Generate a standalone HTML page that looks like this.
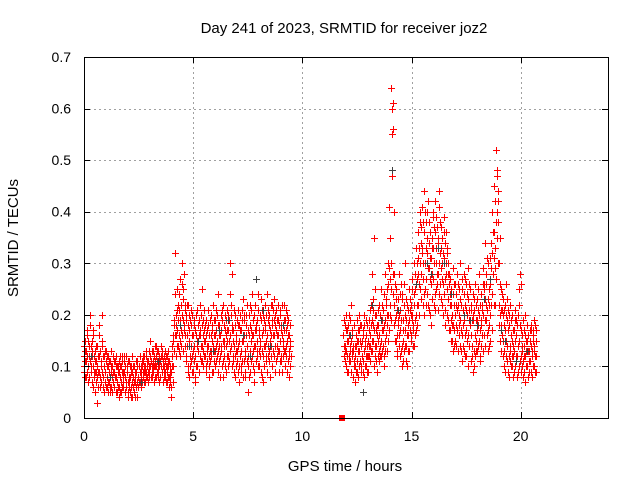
<!DOCTYPE html>
<html><head><meta charset="utf-8"><style>
body{margin:0;background:#fff}
svg{display:block;font-family:"Liberation Sans",sans-serif}
</style></head><body>
<svg id="chart" width="640" height="480"></svg>
<script>
const xTicks=[0,5,10,15,20];
const yTicks=[0,0.1,0.2,0.3,0.4,0.5,0.6,0.7];
const yTickLabels=["0","0.1","0.2","0.3","0.4","0.5","0.6","0.7"];
const redBins=[
[0.0,.12,.09,.14,.10],[0.1,.13,.08,.11,.16],[0.2,.10,.15,.07,.12],[0.3,.20,.11,.09,.14],[0.4,.12,.06,.17,.10],
[0.5,.09,.13,.05,.11],[0.6,.03,.10,.14,.08],[0.7,.18,.09,.12,.06],[0.8,.11,.07,.15,.20],[0.9,.08,.12,.05,.10],
[1.0,.09,.06,.11,.13],[1.1,.07,.10,.05,.12],[1.2,.08,.11,.06,.09],[1.3,.10,.05,.12,.07],[1.4,.06,.09,.11,.08],
[1.5,.12,.07,.05,.10],[1.6,.09,.06,.11,.04],[1.7,.07,.10,.05,.12],[1.8,.08,.06,.09,.11],[1.9,.05,.10,.07,.12],
[2.0,.09,.04,.07,.11],[2.1,.06,.08,.10,.05],[2.2,.04,.09,.07,.12],[2.3,.07,.05,.10,.08],[2.4,.06,.09,.04,.11],
[2.5,.08,.06,.10,.07],[2.6,.07,.10,.09,.06],[2.7,.09,.08,.11,.12],[2.8,.10,.07,.09,.13],[2.9,.08,.11,.10,.07],
[3.0,.10,.09,.12,.15],[3.1,.11,.08,.10,.13],[3.2,.09,.12,.10,.07],[3.3,.12,.10,.08,.14],[3.4,.10,.13,.09,.11],
[3.5,.08,.11,.14,.10],[3.6,.12,.09,.10,.07],[3.7,.10,.13,.08,.11],[3.8,.07,.09,.12,.10],[3.9,.06,.08,.11,.09],
[4.0,.06,.04,.09,.12],[4.1,.15,.10,.18,.13],[4.2,.32,.20,.16,.12],[4.3,.17,.14,.22,.19],[4.4,.27,.15,.19,.12],
[4.5,.30,.20,.16,.23],[4.6,.28,.18,.14,.21],[4.7,.12,.19,.16,.22],[4.8,.10,.15,.20,.08],[4.9,.14,.18,.11,.21],
[5.0,.16,.09,.13,.19],[5.1,.12,.07,.17,.20],[5.2,.15,.10,.18,.13],[5.3,.19,.12,.16,.22],[5.4,.25,.14,.18,.11],
[5.5,.21,.15,.12,.17],[5.6,.10,.16,.19,.13],[5.7,.14,.18,.08,.12],[5.8,.11,.16,.20,.13],[5.9,.17,.09,.14,.22],
[6.0,.13,.19,.10,.16],[6.1,.15,.12,.20,.24],[6.2,.14,.18,.11,.08],[6.3,.17,.13,.21,.10],[6.4,.22,.15,.12,.18],
[6.5,.19,.14,.09,.16],[6.6,.12,.17,.20,.10],[6.7,.30,.16,.13,.22],[6.8,.28,.18,.11,.15],[6.9,.14,.20,.08,.12],
[7.0,.16,.11,.19,.13],[7.1,.10,.15,.07,.18],[7.2,.13,.17,.09,.21],[7.3,.23,.15,.11,.19],[7.4,.12,.08,.16,.20],
[7.5,.14,.05,.10,.17],[7.6,.18,.13,.09,.22],[7.7,.16,.12,.24,.10],[7.8,.20,.14,.07,.17],[7.9,.27,.18,.12,.15],
[8.0,.21,.13,.16,.10],[8.1,.15,.19,.09,.23],[8.2,.12,.17,.07,.20],[8.3,.18,.14,.22,.11],[8.4,.16,.24,.12,.19],
[8.5,.20,.13,.08,.15],[8.6,.14,.18,.10,.22],[8.7,.23,.16,.12,.19],[8.8,.11,.17,.21,.14],[8.9,.19,.13,.16,.09],
[9.0,.15,.20,.11,.17],[9.1,.22,.14,.18,.12],[9.2,.17,.10,.19,.13],[9.3,.20,.15,.09,.18],[9.4,.12,.16,.08,.14],
[11.9,.16,.12,.19,.14],[12.0,.13,.10,.17,.20],[12.1,.15,.09,.18,.12],[12.2,.19,.11,.14,.22],[12.3,.12,.16,.08,.13],
[12.4,.18,.10,.14,.07],[12.5,.15,.19,.11,.09],[12.6,.13,.17,.10,.20],[12.7,.09,.14,.18,.12],[12.8,.16,.11,.20,.08],
[12.9,.14,.19,.10,.12],[13.0,.18,.12,.09,.15],[13.1,.21,.16,.11,.14],[13.2,.28,.19,.13,.23],[13.3,.35,.17,.12,.25],
[13.4,.14,.20,.09,.16],[13.5,.18,.13,.22,.11],[13.6,.15,.19,.12,.25],[13.7,.21,.14,.17,.10],[13.8,.28,.19,.13,.23],
[13.9,.25,.18,.30,.15],[14.0,.41,.27,.20,.22],[14.1,.64,.60,.55,.47],[14.2,.40,.28,.22,.18],[14.3,.25,.15,.20,.12],
[14.4,.19,.23,.14,.28],[14.5,.17,.21,.13,.26],[14.6,.24,.15,.19,.11],[14.7,.20,.14,.30,.17],[14.8,.16,.22,.10,.18],
[14.9,.19,.25,.13,.21],[15.0,.22,.16,.27,.19],[15.1,.18,.24,.14,.30],[15.2,.25,.20,.33,.17],[15.3,.36,.28,.22,.31],
[15.4,.30,.40,.25,.34],[15.5,.41,.33,.27,.22],[15.6,.44,.36,.30,.25],[15.7,.38,.32,.24,.40],[15.8,.34,.29,.21,.38],
[15.9,.26,.31,.18,.35],[16.0,.40,.33,.27,.22],[16.1,.42,.36,.25,.30],[16.2,.37,.28,.34,.21],[16.3,.44,.32,.26,.38],
[16.4,.35,.27,.22,.30],[16.5,.39,.31,.24,.18],[16.6,.36,.28,.20,.33],[16.7,.30,.23,.17,.26],[16.8,.27,.19,.15,.22],
[16.9,.24,.18,.13,.29],[17.0,.20,.26,.15,.22],[17.1,.28,.21,.17,.13],[17.2,.25,.18,.30,.14],[17.3,.22,.16,.27,.11],
[17.4,.19,.24,.13,.28],[17.5,.26,.17,.21,.12],[17.6,.23,.29,.16,.19],[17.7,.18,.25,.11,.21],[17.8,.14,.20,.09,.24],
[17.9,.21,.16,.26,.12],[18.0,.17,.23,.13,.19],[18.1,.20,.15,.28,.11],[18.2,.24,.18,.14,.21],[18.3,.29,.20,.16,.25],
[18.4,.34,.26,.19,.22],[18.5,.30,.23,.17,.13],[18.6,.26,.20,.15,.31],[18.7,.40,.32,.24,.28],[18.8,.45,.36,.29,.22],
[18.9,.52,.47,.40,.35],[19.0,.42,.30,.22,.18],[19.1,.25,.18,.13,.21],[19.2,.20,.15,.23,.10],[19.3,.17,.22,.12,.26],
[19.4,.14,.19,.09,.21],[19.5,.18,.13,.22,.11],[19.6,.15,.20,.10,.12],[19.7,.13,.17,.09,.21],[19.8,.16,.11,.19,.08],
[19.9,.20,.14,.25,.10],[20.0,.28,.17,.12,.09],[20.1,.14,.19,.08,.11],[20.2,.12,.16,.07,.20],[20.3,.15,.10,.18,.13],
[20.4,.09,.13,.17,.11],[20.5,.14,.18,.08,.12],[20.6,.16,.10,.13,.19],[20.7,.12,.15,.09,.17]
];
const redBins2=[
[0.05,.11,.15,.08,.13],[0.15,.09,.12,.17,.10],[0.25,.14,.08,.11,.18],[0.35,.10,.13,.07,.15],[0.45,.16,.09,.12,.08],
[0.55,.07,.11,.14,.09],[0.65,.12,.06,.09,.16],[0.75,.08,.13,.10,.07],[0.85,.14,.09,.06,.12],[0.95,.10,.07,.13,.09],
[1.05,.08,.12,.06,.10],[1.15,.11,.07,.09,.05],[1.25,.06,.10,.13,.08],[1.35,.09,.07,.11,.06],[1.45,.11,.05,.08,.10],
[1.55,.07,.10,.06,.09],[1.65,.10,.05,.08,.12],[1.75,.06,.09,.11,.07],[1.85,.09,.12,.05,.08],[1.95,.07,.06,.10,.09],
[2.05,.05,.08,.11,.07],[2.15,.09,.06,.04,.10],[2.25,.06,.10,.08,.05],[2.35,.09,.04,.07,.11],[2.45,.07,.10,.06,.08],
[2.55,.10,.07,.09,.12],[2.65,.08,.11,.07,.10],[2.75,.12,.09,.07,.10],[2.85,.09,.12,.08,.11],[2.95,.11,.09,.13,.08],
[3.05,.12,.10,.08,.11],[3.15,.09,.13,.11,.10],[3.25,.11,.08,.14,.10],[3.35,.09,.11,.13,.08],[3.45,.12,.10,.07,.11],
[3.55,.10,.12,.09,.13],[3.65,.11,.08,.12,.09],[3.75,.09,.12,.10,.07],[3.85,.11,.08,.10,.13],[3.95,.08,.10,.07,.06],
[4.05,.10,.14,.07,.16],[4.15,.19,.13,.24,.16],[4.25,.18,.25,.14,.21],[4.35,.21,.16,.13,.24],[4.45,.17,.22,.14,.26],
[4.55,.19,.25,.13,.17],[4.65,.16,.22,.11,.20],[4.75,.14,.18,.09,.22],[4.85,.17,.12,.19,.10],[4.95,.12,.16,.20,.09],
[5.05,.14,.18,.11,.08],[5.15,.16,.10,.14,.21],[5.25,.13,.18,.09,.16],[5.35,.17,.11,.20,.14],[5.45,.13,.19,.16,.10],
[5.55,.18,.12,.15,.09],[5.65,.14,.11,.17,.21],[5.75,.16,.10,.13,.19],[5.85,.12,.18,.15,.09],[5.95,.19,.13,.11,.16],
[6.05,.11,.17,.14,.21],[6.15,.18,.13,.09,.16],[6.25,.16,.12,.20,.14],[6.35,.19,.11,.15,.08],[6.45,.14,.20,.10,.17],
[6.55,.17,.12,.21,.15],[6.65,.15,.19,.11,.24],[6.75,.20,.14,.17,.10],[6.85,.17,.12,.21,.09],[6.95,.18,.10,.15,.13],
[7.05,.14,.18,.09,.21],[7.15,.17,.12,.20,.10],[7.25,.11,.15,.19,.08],[7.35,.16,.20,.13,.09],[7.45,.18,.11,.14,.22],
[7.55,.12,.16,.20,.08],[7.65,.15,.21,.11,.17],[7.75,.19,.13,.16,.09],[7.85,.14,.22,.11,.17],[7.95,.19,.13,.24,.10],
[8.05,.17,.12,.20,.14],[8.15,.13,.21,.16,.08],[8.25,.19,.14,.10,.17],[8.35,.15,.20,.12,.09],[8.45,.21,.14,.18,.11],
[8.55,.17,.22,.12,.16],[8.65,.19,.13,.16,.21],[8.75,.14,.20,.09,.18],[8.85,.16,.12,.19,.22],[8.95,.13,.18,.11,.21],
[9.05,.18,.12,.16,.09],[9.15,.15,.19,.13,.22],[9.25,.12,.17,.21,.14],[9.35,.16,.11,.19,.13],[9.45,.18,.10,.15,.12],
[11.95,.14,.18,.11,.13],[12.05,.17,.12,.15,.09],[12.15,.11,.16,.20,.13],[12.25,.15,.09,.13,.17],[12.35,.14,.18,.11,.10],
[12.45,.12,.16,.09,.14],[12.55,.17,.13,.08,.15],[12.65,.11,.15,.18,.10],[12.75,.15,.12,.17,.09],[12.85,.13,.18,.10,.15],
[12.95,.16,.12,.14,.09],[13.05,.14,.19,.12,.17],[13.15,.18,.13,.22,.15],[13.25,.21,.15,.18,.10],[13.35,.20,.14,.17,.11],
[13.45,.18,.12,.15,.21],[13.55,.16,.20,.12,.14],[13.65,.19,.13,.17,.22],[13.75,.18,.12,.24,.15],[13.85,.22,.16,.20,.13],
[13.95,.20,.26,.17,.29],[14.05,.35,.25,.30,.19],[14.15,.61,.56,.28,.24],[14.25,.26,.19,.15,.23],[14.35,.21,.16,.13,.18],
[14.45,.16,.20,.24,.12],[14.55,.19,.14,.23,.10],[14.65,.17,.22,.13,.26],[14.75,.14,.19,.23,.11],[14.85,.21,.16,.13,.25],
[14.95,.17,.23,.15,.20],[15.05,.20,.25,.17,.14],[15.15,.22,.28,.16,.19],[15.25,.30,.22,.18,.27],[15.35,.26,.33,.20,.38],
[15.45,.37,.28,.23,.32],[15.55,.38,.30,.24,.20],[15.65,.40,.33,.27,.22],[15.75,.35,.29,.22,.42],[15.85,.31,.27,.20,.36],
[15.95,.33,.28,.23,.39],[16.05,.37,.30,.24,.21],[16.15,.39,.33,.26,.28],[16.25,.35,.30,.24,.41],[16.35,.37,.29,.23,.33],
[16.45,.32,.26,.20,.36],[16.55,.34,.27,.21,.30],[16.65,.32,.25,.19,.28],[16.75,.28,.22,.17,.24],[16.85,.25,.20,.15,.18],
[16.95,.22,.17,.26,.14],[17.05,.24,.18,.14,.28],[17.15,.22,.26,.16,.20],[17.25,.19,.23,.13,.17],[17.35,.25,.18,.14,.21],
[17.45,.22,.16,.27,.12],[17.55,.20,.15,.24,.10],[17.65,.21,.26,.14,.18],[17.75,.16,.22,.12,.19],[17.85,.19,.13,.23,.10],
[17.95,.15,.19,.22,.13],[18.05,.21,.14,.18,.25],[18.15,.17,.22,.12,.19],[18.25,.22,.16,.26,.13],[18.35,.26,.19,.23,.14],
[18.45,.28,.21,.16,.31],[18.55,.25,.18,.22,.14],[18.65,.29,.22,.34,.17],[18.75,.36,.28,.22,.31],[18.85,.42,.33,.27,.38],
[18.95,.48,.44,.38,.30],[19.05,.35,.26,.20,.15],[19.15,.21,.16,.24,.12],[19.25,.18,.13,.21,.09],[19.35,.15,.20,.11,.23],
[19.45,.17,.12,.20,.08],[19.55,.14,.19,.10,.16],[19.65,.12,.17,.08,.14],[19.75,.15,.10,.19,.12],[19.85,.18,.12,.09,.14],
[19.95,.22,.15,.11,.18],[20.05,.26,.16,.10,.13],[20.15,.12,.17,.09,.14],[20.25,.10,.15,.13,.18],[20.35,.13,.08,.16,.11],
[20.45,.11,.15,.09,.17],[20.55,.13,.17,.10,.15],[20.65,.14,.09,.18,.12]
];
const grayTimes=[0.3,1.2,2.6,3.4,4.4,5.2,5.9,6.6,7.3,7.9,8.5,9.1,12.2,12.8,13.6,14.1,14.4,15.2,15.7,16.2,16.8,17.4,18.0,18.6,19.3,19.8,20.3,4.8,6.2,7.6,8.2,13.2,15.9,16.5,17.7,18.3,19.1];
const grayValues=[.12,.08,.07,.11,.18,.15,.13,.19,.16,.27,.14,.18,.16,.05,.19,.48,.21,.26,.30,.33,.24,.20,.18,.27,.15,.11,.13,.14,.17,.12,.21,.22,.28,.30,.19,.23,.17];
const flagTime=11.82, flagValue=0;

const NS="http://www.w3.org/2000/svg";
const svg=document.getElementById('chart');
const L=84,R=608,T=57,B=418,XMAX=24,YMAX=0.7;
const xs=t=>L+t/XMAX*(R-L);
const ys=v=>B-v/YMAX*(B-T);
function mk(tag,attrs,parent){const e=document.createElementNS(NS,tag);for(const k in attrs)e.setAttribute(k,attrs[k]);(parent||svg).appendChild(e);return e;}

const grid=mk('g',{stroke:'#a0a0a0','stroke-width':1,'stroke-dasharray':'2,3'});


xTicks.forEach(t=>{if(t>0)mk('line',{x1:Math.round(xs(t))+.5,x2:Math.round(xs(t))+.5,y1:T,y2:B},grid);});
yTicks.forEach(v=>{if(v>0&&v<YMAX)mk('line',{x1:L,x2:R,y1:Math.round(ys(v))+.5,y2:Math.round(ys(v))+.5},grid);});

function plus(x,y,g){mk('path',{d:`M${x-3.5} ${y}H${x+3.5}M${x} ${y-3.5}V${y+3.5}`},g);}

const redG=mk('g',{stroke:'#ff0000','stroke-width':1});


[redBins,redBins2].forEach(arr=>arr.forEach(b=>{const t=b[0];for(let j=1;j<b.length;j++){
 const x=Math.round(xs(t+(j-2.5)*0.012))+.5,y=Math.round(ys(b[j]))+.5;plus(x,y,redG);}}));

const grayG=mk('g',{stroke:'#404040','stroke-width':1});


grayTimes.forEach((t,i)=>{plus(Math.round(xs(t))+.5,Math.round(ys(grayValues[i]))+.5,grayG);});

const flag=mk('rect',{x:Math.round(xs(flagTime))-3,y:ys(flagValue)-3,width:6,height:6,fill:'#ff0000'});



const frame=mk('rect',{x:L+.5,y:T+.5,width:R-L,height:B-T,fill:'none',stroke:'#000'});



const ax=mk('g',{stroke:'#000'});


xTicks.forEach(t=>{const x=Math.round(xs(t))+.5;mk('line',{x1:x,x2:x,y1:B,y2:B-6},ax);mk('line',{x1:x,x2:x,y1:T,y2:T+6},ax);});
yTicks.forEach(v=>{const y=Math.round(ys(v))+.5;mk('line',{x1:L,x2:L+6,y1:y,y2:y},ax);mk('line',{x1:R,x2:R-6,y1:y,y2:y},ax);});

xTicks.forEach(t=>{const e=mk('text',{x:xs(t),y:B+23,'text-anchor':'middle','font-size':14});e.textContent=String(t);
 
 });
yTicks.forEach((v,i)=>{const e=mk('text',{x:L-13,y:ys(v)+5,'text-anchor':'end','font-size':14});e.textContent=yTickLabels[i];
 
 });

const title=mk('text',{x:344,y:33,'text-anchor':'middle','font-size':15});title.textContent='Day 241 of 2023, SRMTID for receiver joz2';


const xt=mk('text',{x:345,y:471,'text-anchor':'middle','font-size':15});xt.textContent='GPS time / hours';


const yt=mk('text',{x:0,y:0,'text-anchor':'middle','font-size':15,transform:'translate(18,238) rotate(-90)'});yt.textContent='SRMTID / TECUs';


</script>
</body></html>
